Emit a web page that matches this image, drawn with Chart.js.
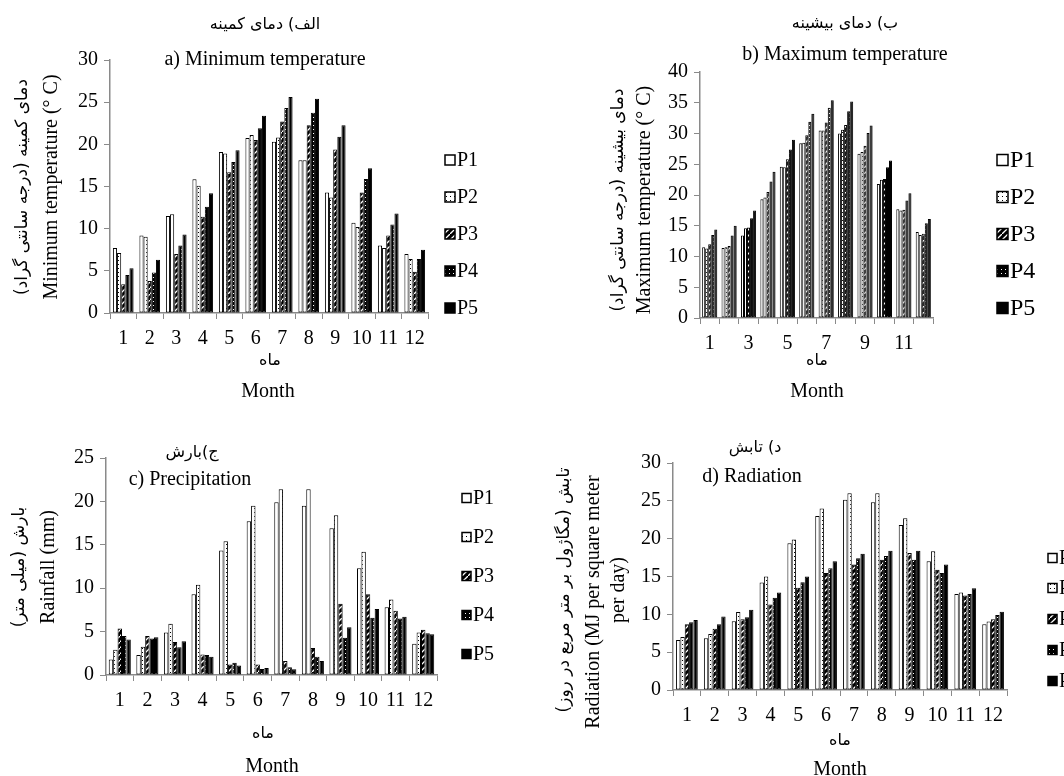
<!DOCTYPE html>
<html>
<head>
<meta charset="utf-8">
<script src="https://cdn.jsdelivr.net/npm/chart.js@4.4.0/dist/chart.umd.min.js"></script>
<style>
  html, body { margin: 0; padding: 0; background: #fff; overflow: hidden; }
  #page { position: relative; width: 1064px; height: 776px; }
  canvas { position: absolute; left: 0; top: 0; }
  .t { position: absolute; white-space: nowrap; color: #000; line-height: 1; transform: translate(-50%, -50%); }
  .v { transform: translate(-50%, -50%) rotate(-90deg); }
  .en { font-family: 'Liberation Serif', 'Times New Roman', serif; font-size: 20px; }
  .fa { font-family: 'DejaVu Sans', sans-serif; font-size: 16px; }
  .fav { font-size: 17px; }
</style>
</head>
<body>
<div id="page">
  <canvas id="chartA" width="1064" height="776"></canvas>
  <canvas id="chartB" width="1064" height="776"></canvas>
  <canvas id="chartC" width="1064" height="776"></canvas>
  <canvas id="chartD" width="1064" height="776"></canvas>
</div>
<script>
// ---------- data ----------
const MONTHS = ['1', '2', '3', '4', '5', '6', '7', '8', '9', '10', '11', '12'];
const SERIES = ['P1', 'P2', 'P3', 'P4', 'P5'];

// a) minimum temperature (°C)
const minP1 = [7.7, 9.2, 11.5, 15.85, 19.1, 20.75, 20.3, 18.1, 14.3, 10.7, 8.0, 7.0];
const minP2 = [7.1, 9.05, 11.7, 15.1, 18.9, 21.1, 20.8, 18.1, 13.7, 10.2, 7.7, 6.4];
const minP3 = [3.4, 3.8, 7.0, 11.4, 16.7, 20.5, 22.7, 22.25, 19.4, 14.3, 9.2, 4.9];
const minP4 = [4.5, 4.8, 8.0, 12.6, 17.9, 21.9, 24.3, 23.75, 20.9, 15.9, 10.5, 6.4];
const minP5 = [5.3, 6.3, 9.3, 14.2, 19.3, 23.4, 25.6, 25.4, 22.25, 17.15, 11.8, 7.5];

// b) maximum temperature (°C)
const maxP1 = [11.5, 11.4, 13.4, 19.3, 24.6, 28.4, 30.5, 30.0, 26.7, 21.8, 17.7, 14.0];
const maxP2 = [11.3, 11.5, 14.6, 19.6, 24.5, 28.5, 30.5, 30.6, 27.0, 22.5, 17.5, 13.5];
const maxP3 = [12.0, 11.7, 14.7, 20.5, 25.8, 29.7, 31.8, 31.4, 28.0, 22.6, 17.6, 13.7];
const maxP4 = [13.5, 13.4, 16.2, 22.2, 27.4, 31.9, 34.2, 33.6, 30.1, 24.5, 19.1, 15.4];
const maxP5 = [14.4, 15.0, 17.5, 23.8, 29.0, 33.2, 35.4, 35.2, 31.3, 25.6, 20.3, 16.1];

// c) precipitation (mm)
const rainP1 = [1.8, 2.3, 4.9, 9.3, 14.35, 17.7, 19.9, 19.5, 16.9, 12.3, 7.8, 3.6];
const rainP2 = [2.9, 3.25, 5.9, 10.4, 15.4, 19.5, 21.4, 21.4, 18.4, 14.2, 8.7, 4.9];
const rainP3 = [5.35, 4.5, 3.8, 2.35, 1.2, 1.2, 1.6, 3.1, 8.2, 9.3, 7.4, 5.2];
const rainP4 = [4.5, 4.2, 3.2, 2.3, 1.4, 0.7, 0.9, 2.1, 4.3, 6.6, 6.5, 4.8];
const rainP5 = [4.1, 4.35, 3.9, 2.1, 1.1, 0.8, 0.65, 1.6, 5.5, 7.6, 6.7, 4.7];

// d) radiation (MJ / m2 / day)
const radP1 = [6.6, 6.85, 9.1, 14.2, 19.4, 23.0, 25.15, 24.8, 21.8, 17.0, 12.7, 8.7];
const radP2 = [7.0, 7.4, 10.3, 15.0, 19.9, 24.0, 26.0, 26.0, 22.7, 18.35, 12.9, 9.05];
const radP3 = [8.7, 8.1, 9.35, 11.3, 13.5, 15.45, 16.6, 17.2, 18.1, 15.9, 12.5, 9.35];
const radP4 = [8.95, 8.7, 9.6, 12.2, 14.25, 16.1, 17.4, 17.7, 17.2, 15.45, 12.7, 9.9];
const radP5 = [9.25, 9.7, 10.6, 12.9, 15.0, 17.0, 18.0, 18.4, 18.4, 16.6, 13.45, 10.35];

// ---------- fill patterns (Excel style b/w) ----------
function makePattern(w, h, draw) {
  const c = document.createElement('canvas');
  c.width = w; c.height = h;
  const g = c.getContext('2d');
  draw(g, w, h);
  return g.createPattern(c, 'repeat');
}
const PATTERNS = [
  '#ffffff',
  makePattern(4, 4, g => { g.fillStyle = '#fff'; g.fillRect(0, 0, 4, 4); g.fillStyle = '#000'; g.fillRect(2, 0, 1, 1); }),
  makePattern(6, 6, g => {
    g.fillStyle = '#000'; g.fillRect(0, 0, 6, 6);
    g.strokeStyle = '#fff'; g.lineWidth = 1.3;
    g.beginPath(); g.moveTo(0, 6); g.lineTo(6, 0); g.stroke();
  }),
  makePattern(4, 4, g => { g.fillStyle = '#000'; g.fillRect(0, 0, 4, 4); g.fillStyle = '#fff'; g.fillRect(1, 1, 1, 1); }),
  '#000000'
];

const W = 1064, H = 776;
const AXIS = '#8a8a8a';
const TICK_FONT = { family: "'Liberation Serif', 'Times New Roman', serif", size: 20 };

// legend drawn at fixed page positions (boxes take the dataset fill)
function legendPlugin(cfg) {
  return {
    id: 'pLegend',
    afterDraw(chart) {
      const ctx = chart.ctx;
      ctx.save();
      chart.data.datasets.forEach((ds, i) => {
        const y = cfg.ys[i], s = cfg.box;
        ctx.fillStyle = ds.backgroundColor;
        ctx.fillRect(cfg.x, y - s / 2, s, s);
        ctx.strokeStyle = '#000';
        ctx.lineWidth = 1.5;
        ctx.strokeRect(cfg.x, y - s / 2, s, s);
        ctx.fillStyle = '#000';
        ctx.font = cfg.font;
        ctx.textBaseline = 'middle';
        ctx.fillText(ds.label, cfg.x + s + 2, y + 1);
      });
      ctx.restore();
    }
  };
}

function makeChart(id, p) {
  const YW = 50, XH = 45;
  return new Chart(document.getElementById(id), {
    type: 'bar',
    data: {
      labels: MONTHS,
      datasets: p.series.map((d, i) => ({
        label: SERIES[i],
        data: d,
        backgroundColor: PATTERNS[i],
        borderColor: '#000',
        borderWidth: 1,
        borderSkipped: false,
        categoryPercentage: p.cat,
        barPercentage: 1
      }))
    },
    options: {
      responsive: false,
      animation: false,
      events: [],
      layout: { padding: { left: p.x0 - YW, right: W - p.x1, top: p.top, bottom: H - p.bottom - XH } },
      plugins: { legend: { display: false }, tooltip: { enabled: false } },
      scales: {
        x: {
          grid: { display: true, drawOnChartArea: false, drawTicks: true, tickLength: 6, color: AXIS, offset: true },
          border: { color: AXIS, width: 1.5 },
          ticks: {
            font: TICK_FONT, color: '#000', padding: p.xpad, maxRotation: 0, autoSkip: false,
            callback: (v, i) => (p.everyOther && i % 2 === 1) ? '' : MONTHS[i]
          },
          afterFit: s => { s.height = XH; }
        },
        y: {
          min: 0, max: p.max,
          ticks: { stepSize: 5, font: TICK_FONT, color: '#000', padding: 6 },
          grid: { display: true, drawOnChartArea: false, drawTicks: true, tickLength: 6, color: AXIS },
          border: { color: AXIS, width: 1.5 },
          afterFit: s => { s.width = YW; }
        }
      }
    },
    plugins: [legendPlugin(p.legend)]
  });
}

makeChart('chartA', {
  series: [minP1, minP2, minP3, minP4, minP5], max: 30, cat: 0.78, xpad: 8,
  x0: 110, x1: 428, top: 60, bottom: 313,
  legend: { x: 445, ys: [160, 197, 234, 271, 308], box: 10, font: "20px 'Liberation Serif', serif" }
});
makeChart('chartB', {
  series: [maxP1, maxP2, maxP3, maxP4, maxP5], max: 40, cat: 0.78, xpad: 8, everyOther: true,
  x0: 700, x1: 933, top: 72, bottom: 318,
  legend: { x: 997, ys: [160, 197, 234, 271, 308], box: 11, font: "24px 'Liberation Serif', serif" }
});
makeChart('chartC', {
  series: [rainP1, rainP2, rainP3, rainP4, rainP5], max: 25, cat: 0.8, xpad: 8,
  x0: 106, x1: 437, top: 458, bottom: 675,
  legend: { x: 462, ys: [498, 537, 576, 615, 654], box: 9, font: "20px 'Liberation Serif', serif" }
});
makeChart('chartD', {
  series: [radP1, radP2, radP3, radP4, radP5], max: 30, cat: 0.78, xpad: 8,
  x0: 673, x1: 1007, top: 463, bottom: 690,
  legend: { x: 1048, ys: [558, 588, 619, 650, 681], box: 9, font: "20px 'Liberation Serif', serif" }
});

// ---------- titles and axis titles ----------
const page = document.getElementById('page');
function addText(txt, x, y, cls, rtl) {
  const d = document.createElement('div');
  d.className = 't ' + cls;
  if (rtl) d.dir = 'rtl';
  d.textContent = txt;
  d.style.left = x + 'px';
  d.style.top = y + 'px';
  page.appendChild(d);
  return d;
}

// a
addText('الف) دمای کمینه', 265, 24, 'fa', true);
addText('a) Minimum temperature', 265, 58, 'en');
addText('دمای کمینه (درجه سانتی گراد)', 21, 187, 'fa fav v', true);
addText('Minimum temperature (° C)', 50, 187, 'en v');
addText('ماه', 270, 360, 'fa', true);
addText('Month', 268, 390, 'en');

// b
addText('ب) دمای بیشینه', 845, 23, 'fa', true);
addText('b) Maximum temperature', 845, 53, 'en');
addText('دمای بیشینه (درجه سانتی گراد)', 617, 200, 'fa fav v', true);
addText('Maximum temperature (° C)', 643, 200, 'en v');
addText('ماه', 817, 360, 'fa', true);
addText('Month', 817, 390, 'en');

// c
addText('ج)بارش', 192, 452, 'fa', true);
addText('c) Precipitation', 190, 478, 'en');
addText('بارش (میلی متر)', 18, 567, 'fa fav v', true);
addText('Rainfall (mm)', 47, 567, 'en v');
addText('ماه', 263, 733, 'fa', true);
addText('Month', 272, 765, 'en');

// d
addText('د) تابش', 755, 447, 'fa', true);
addText('d) Radiation', 752, 475, 'en');
addText('تابش (مگاژول بر متر مربع در روز)', 563, 590, 'fa fav v', true);
addText('Radiation (MJ per square meter', 592, 602, 'en v');
addText('per day)', 617, 590, 'en v');
addText('ماه', 840, 740, 'fa', true);
addText('Month', 840, 768, 'en');
</script>
</body>
</html>
